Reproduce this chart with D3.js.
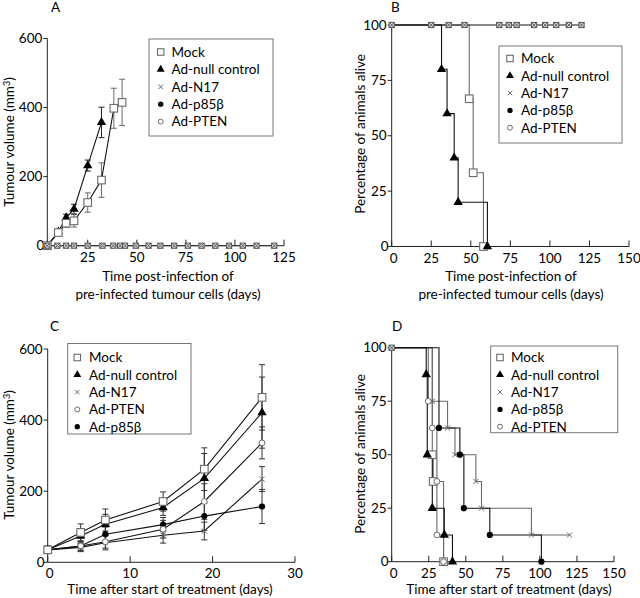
<!DOCTYPE html>
<html><head><meta charset="utf-8">
<script src="https://cdn.jsdelivr.net/npm/d3@7"></script>
<style>
body{margin:0;background:#fff;}
svg{display:block;font-family:Lato,"Open Sans",sans-serif;}
</style></head>
<body><svg id="c" width="640" height="598"></svg>
<script>
// ---------- DATA ----------
// Panel A: tumour volume, pre-infected cells
const aMockDays = [4.4, 10, 14, 18, 25, 32, 38.3, 42.5];
const aMockVol  = [0, 38, 65, 72, 125, 190, 398, 415];
const aMockErr  = [0, 6, 12, 18, 28, 50, 58, 67];
const aNullDays = [4.4, 10, 14, 18, 25, 32];
const aNullVol  = [0, 40, 81, 106, 232, 357];
const aNullErr  = [0, 6, 10, 14, 16, 44];
const aFlatDays = [4.4, 9.5, 14, 18, 25, 32.5, 38, 41.5, 44, 49.5, 56, 62, 69, 76, 83, 90, 97, 104, 111, 120];
const aFlatVol  = 0;
const aXTicks = [25, 50, 75, 100, 125];
const aYTicks = [0, 200, 400, 600];

// Panel B: survival, pre-infected cells
const bNullDays = [31.5, 35, 39.5, 42, 60.5];
const bNullSurv = [80, 60, 40, 20, 0];
const bMockDays = [49, 51.5, 58];
const bMockSurv = [66.7, 33.3, 0];
const bFlatDays = [0, 25, 36, 46, 68, 74, 79, 90, 97, 104, 112, 120];
const bXTicks = [0, 25, 50, 75, 100, 125, 150];
const bYTicks = [0, 25, 50, 75, 100];

// Panel C: tumour volume after treatment
const cDays = [0, 4, 7, 14, 19, 26];
const cMock = [35, 84, 119, 171, 262, 464];
const cMockErr = [10, 24, 31, 27, 60, 92];
const cNull = [35, 74, 107, 154, 236, 421];
const cNullErr = [10, 20, 28, 22, 70, 100];
const cN17 = [35, 42, 55, 76, 88, 234];
const cN17Err = [10, 12, 20, 22, 25, 35];
const cPten = [35, 46, 58, 93, 171, 336];
const cPtenErr = [10, 12, 18, 25, 50, 45];
const cP85 = [35, 46, 79, 106, 130, 157];
const cP85Err = [10, 14, 20, 20, 40, 48];
const cXTicks = [0, 10, 20, 30];
const cYTicks = [0, 200, 400, 600];

// Panel D: survival after treatment
const dMockDays = [27.4, 28, 35];
const dMockSurv = [50, 37.5, 0];
const dNullDays = [23.3, 24, 27.4, 35.5, 41];
const dNullSurv = [87.5, 50, 25, 12.5, 0];
const dN17Days = [27.4, 37.7, 42.7, 56.8, 60.6, 94.3, 120];
const dN17Surv = [75, 62.5, 50, 37.5, 25, 12.5, 12.5];
const dP85Days = [31.9, 46, 48.7, 66.2, 101];
const dP85Surv = [62.5, 50, 25, 12.5, 0];
const dPtenDays = [24.7, 27.4, 30.5, 30.5, 35];
const dPtenSurv = [75, 62.5, 37.5, 12.5, 0];
const dXTicks = [0, 25, 50, 75, 100, 125, 150];
const dYTicks = [0, 25, 50, 75, 100];

const legendA = ["Mock", "Ad-null control", "Ad-N17", "Ad-p85β", "Ad-PTEN"];
const legendC = ["Mock", "Ad-null control", "Ad-N17", "Ad-PTEN", "Ad-p85β"];
const legendKeysA = ["sq", "tri", "x", "dot", "circ"];
const legendKeysC = ["sq", "tri", "x", "circ", "dot"];

// ---------- DRAWING ----------
const svg = d3.select("#c");
const GREY = "#6a6a6a";
const FS = 13.5;

function marker(g, type, x, y, s) {
  s = s || 1;
  if (type === "sq") {
    const h = 3.8 * s;
    g.append("rect").attr("x", x - h).attr("y", y - h).attr("width", 2*h).attr("height", 2*h)
      .attr("fill", "#fff").attr("stroke", GREY).attr("stroke-width", 1.1);
  } else if (type === "tri") {
    g.append("path").attr("d", d3.symbol(d3.symbolTriangle, 38 * s * s)()).attr("transform", `translate(${x},${y})`)
      .attr("fill", "#000");
  } else if (type === "x") {
    const h = 2.6 * s;
    g.append("path").attr("d", `M${x-h},${y-h}L${x+h},${y+h}M${x-h},${y+h}L${x+h},${y-h}`)
      .attr("stroke", GREY).attr("stroke-width", 1);
  } else if (type === "dot") {
    g.append("circle").attr("cx", x).attr("cy", y).attr("r", 3.1 * s).attr("fill", "#000");
  } else if (type === "circ") {
    g.append("circle").attr("cx", x).attr("cy", y).attr("r", 2.9 * s).attr("fill", "#fff")
      .attr("stroke", GREY).attr("stroke-width", 1);
  } else if (type === "flat") {
    const h = 2.6;
    g.append("rect").attr("x", x - h).attr("y", y - h).attr("width", 2*h).attr("height", 2*h)
      .attr("fill", "#ddd").attr("stroke", "#555").attr("stroke-width", 1);
    g.append("path").attr("d", `M${x-h},${y-h}L${x+h},${y+h}M${x-h},${y+h}L${x+h},${y-h}`)
      .attr("stroke", "#444").attr("stroke-width", 0.8);
  }
}

function axes(p) {
  const g = svg.append("g");
  g.append("line").attr("x1", p.x0).attr("x2", p.x0).attr("y1", p.y(p.yDom[0])).attr("y2", p.y(p.yDom[1]))
    .attr("stroke", "#222").attr("stroke-width", 1);
  p.yTicks.forEach(t => {
    g.append("line").attr("x1", p.x0 - 4).attr("x2", p.x0).attr("y1", p.y(t)).attr("y2", p.y(t)).attr("stroke", "#222");
    g.append("text").attr("x", p.x0 - (t === 0 ? 3 : 5)).attr("y", p.y(t) + 4.7).attr("text-anchor", "end")
      .attr("font-size", FS).text(t);
  });
  const yb = p.y(p.yDom[0]);
  g.append("line").attr("x1", p.x(p.xDom[0])).attr("x2", p.x(p.xDom[1])).attr("y1", yb).attr("y2", yb)
    .attr("stroke", "#222").attr("stroke-width", 1);
  p.xTicks.forEach(t => {
    g.append("line").attr("x1", p.x(t)).attr("x2", p.x(t)).attr("y1", yb).attr("y2", yb - 6).attr("stroke", "#222");
    g.append("text").attr("x", p.x(t) + (t === 0 ? 2 : 0)).attr("y", yb + 16).attr("text-anchor", "middle")
      .attr("font-size", FS).text(t);
  });
  g.append("text").attr("x", p.lx).attr("y", p.ly).attr("font-size", FS).text(p.letter);
  const yt = g.append("text").attr("transform", `translate(${p.ytx},${p.yty}) rotate(-90)`)
    .attr("text-anchor", "middle").attr("font-size", FS);
  if (p.mm) {
    yt.append("tspan").text("Tumour volume (mm");
    yt.append("tspan").attr("font-size", 9).attr("dy", -4).text("3");
    yt.append("tspan").attr("dy", 4).text(")");
  } else yt.text(p.ytitle);
  p.xtitle.forEach((s, i) => {
    g.append("text").attr("x", p.xtx).attr("y", p.xty + i * 17.5).attr("text-anchor", "middle")
      .attr("font-size", FS).text(s);
  });
}

function legend(box, names, keys) {
  const g = svg.append("g");
  g.append("rect").attr("x", box.x).attr("y", box.y).attr("width", box.w).attr("height", box.h)
    .attr("fill", "#fff").attr("stroke", "#777").attr("stroke-width", 1);
  names.forEach((n, i) => {
    const yy = box.y0 + i * box.dy;
    marker(g, keys[i], box.mx, yy, 0.85);
    g.append("text").attr("x", box.tx).attr("y", yy + 4.8).attr("font-size", FS).text(n);
  });
}

function errbars(g, x, y, days, vals, errs, col, cap) {
  days.forEach((d, i) => {
    if (!errs[i]) return;
    const xx = x(d), y1 = y(vals[i] + errs[i]), y2 = y(Math.max(0, vals[i] - errs[i]));
    g.append("line").attr("x1", xx).attr("x2", xx).attr("y1", y1).attr("y2", y2).attr("stroke", col);
    [y1, y2].forEach(yy => g.append("line").attr("x1", xx - cap).attr("x2", xx + cap).attr("y1", yy).attr("y2", yy).attr("stroke", col));
  });
}

function series(g, x, y, days, vals, key, lineCol) {
  const pts = days.map((d, i) => [x(d), y(vals[i])]);
  g.append("path").attr("d", d3.line()(pts)).attr("fill", "none").attr("stroke", lineCol).attr("stroke-width", 1.1);
  pts.forEach(p => marker(g, key, p[0], p[1]));
}

function steps(g, x, y, days, surv, key, col, start, gm) {
  const pts = [[x(start[0]), y(start[1])]];
  let prev = start[1];
  days.forEach((d, i) => { pts.push([x(d), y(prev)]); pts.push([x(d), y(surv[i])]); prev = surv[i]; });
  g.append("path").attr("d", d3.line()(pts)).attr("fill", "none").attr("stroke", col).attr("stroke-width", 1.1);
  days.forEach((d, i) => marker(gm || g, key, x(d), y(surv[i])));
}

// ---- Panel A ----
{
  const x = d3.scaleLinear().domain([4.4, 125]).range([47.3, 284]);
  const y = d3.scaleLinear().domain([0, 600]).range([245.7, 38.5]);
  axes({x, y, x0: 47.3, xDom: [4.4, 125], yDom: [0, 600], xTicks: aXTicks, yTicks: aYTicks,
    letter: "A", lx: 51, ly: 12, mm: true, ytx: 14, yty: 142,
    xtitle: ["Time post-infection of", "pre-infected tumour cells (days)"], xtx: 168, xty: 281});
  const g = svg.append("g");
  g.append("path").attr("d", d3.line()(aFlatDays.map(d => [x(d), y(aFlatVol)]))).attr("stroke", "#333").attr("fill", "none");
  errbars(g, x, y, aMockDays, aMockVol, aMockErr, GREY, 3);
  errbars(g, x, y, aNullDays, aNullVol, aNullErr, "#222", 3);
  series(g, x, y, aNullDays, aNullVol, "tri", "#111");
  series(g, x, y, aMockDays, aMockVol, "sq", "#111");
  aFlatDays.forEach(d => marker(g, "flat", x(d), y(aFlatVol)));
  legend({x: 149, y: 39, w: 124, h: 97, y0: 52, dy: 17.4, mx: 160.7, tx: 171.5}, legendA, legendKeysA);
}

// ---- Panel B ----
{
  const x = d3.scaleLinear().domain([0, 150]).range([391.7, 629]);
  const y = d3.scaleLinear().domain([0, 100]).range([246.5, 25]);
  axes({x, y, x0: 391.7, xDom: [0, 150], yDom: [0, 100], xTicks: bXTicks, yTicks: bYTicks,
    letter: "B", lx: 391, ly: 12, ytitle: "Percentage of animals alive", ytx: 365, yty: 134,
    xtitle: ["Time post-infection of", "pre-infected tumour cells (days)"], xtx: 511, xty: 281});
  const g = svg.append("g");
  steps(g, x, y, bMockDays, bMockSurv, "sq", GREY, [0, 100]);
  steps(g, x, y, bNullDays, bNullSurv, "tri", "#111", [0, 100]);
  g.append("path").attr("d", d3.line()(bFlatDays.map(d => [x(d), y(100)]))).attr("stroke", "#111").attr("fill", "none");
  bFlatDays.forEach(d => marker(g, "flat", x(d), y(100)));
  legend({x: 499, y: 46, w: 123, h: 97, y0: 58.5, dy: 17.3, mx: 510, tx: 521}, legendA, legendKeysA);
}

// ---- Panel C ----
{
  const x = d3.scaleLinear().domain([0, 30]).range([47.7, 295]);
  const y = d3.scaleLinear().domain([0, 600]).range([562.3, 349]);
  axes({x, y, x0: 47.7, xDom: [0, 30], yDom: [0, 600], xTicks: cXTicks, yTicks: cYTicks,
    letter: "C", lx: 50, ly: 331, mm: true, ytx: 14, yty: 455,
    xtitle: ["Time after start of treatment (days)"], xtx: 170, xty: 594});
  const g = svg.append("g");
  [[cMock, cMockErr], [cNull, cNullErr], [cN17, cN17Err], [cPten, cPtenErr], [cP85, cP85Err]]
    .forEach(([v, e]) => errbars(g, x, y, cDays, v, e, "#333", 3));
  series(g, x, y, cDays, cP85, "dot", "#111");
  series(g, x, y, cDays, cN17, "x", "#111");
  series(g, x, y, cDays, cPten, "circ", "#111");
  series(g, x, y, cDays, cNull, "tri", "#111");
  series(g, x, y, cDays, cMock, "sq", "#111");
  legend({x: 67.7, y: 343.5, w: 123.3, h: 90.5, y0: 357.5, dy: 17.3, mx: 77.3, tx: 89}, legendC, legendKeysC);
}

// ---- Panel D ----
{
  const x = d3.scaleLinear().domain([0, 150]).range([391.7, 614]);
  const y = d3.scaleLinear().domain([0, 100]).range([561.7, 347.7]);
  axes({x, y, x0: 391.7, xDom: [0, 150], yDom: [0, 100], xTicks: dXTicks, yTicks: dYTicks,
    letter: "D", lx: 392, ly: 331, ytitle: "Percentage of animals alive", ytx: 365, yty: 454,
    xtitle: ["Time after start of treatment (days)"], xtx: 509, xty: 594});
  const lines = svg.append("g");
  const marks = svg.append("g");
  steps(lines, x, y, dMockDays, dMockSurv, "sq", GREY, [0, 100], marks);
  steps(lines, x, y, dN17Days, dN17Surv, "x", GREY, [0, 100], marks);
  steps(lines, x, y, dPtenDays, dPtenSurv, "circ", GREY, [0, 100], marks);
  steps(lines, x, y, dP85Days, dP85Surv, "dot", "#111", [0, 100], marks);
  steps(lines, x, y, dNullDays, dNullSurv, "tri", "#111", [0, 100], marks);
  marker(marks, "flat", x(0), y(100));
  legend({x: 490.7, y: 346, w: 127, h: 86.7, y0: 357.5, dy: 17.3, mx: 500, tx: 511}, legendA, legendKeysA);
}
</script></body></html>
